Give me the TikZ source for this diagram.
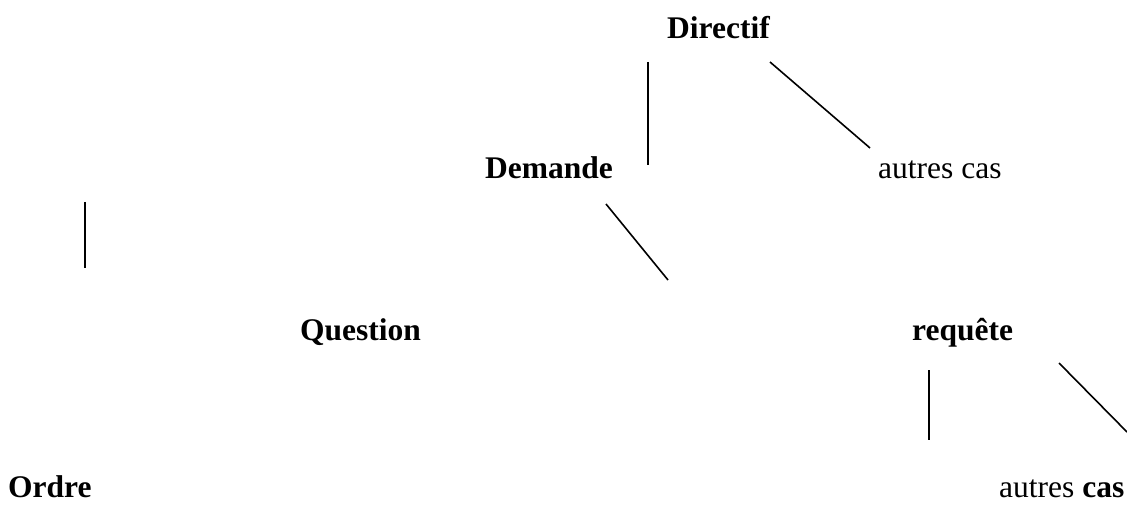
\documentclass[tikz,border=0pt]{standalone}
\usepackage{fontspec}
\setmainfont{Liberation Serif}
\begin{document}
\begin{tikzpicture}[x=1pt,y=-1pt,
  lbl/.style={anchor=base west,inner sep=0pt,font=\fontsize{31.5}{36}\selectfont},
  blbl/.style={lbl,font=\fontsize{31.5}{36}\selectfont\bfseries},
  seg/.style={line width=1.6pt}]
\useasboundingbox (0,0) rectangle (1127,505);
\node[blbl] (dir) at (667,39) {Directif};
\node[blbl] (dem) at (485,179) {Demande};
\node[lbl] (ac1) at (878,179) {autres cas};
\node[blbl] (que) at (300,340) {Question};
\node[blbl] (req) at (912,340) {requête};
\node[blbl] (ord) at (8,497) {Ordre};
\node[lbl] (ac2) at (999,497) {autres \textbf{cas}};
\coordinate (a1) at (648,62); \coordinate (a2) at (648,165);
\coordinate (b1) at (770,62); \coordinate (b2) at (870,148);
\coordinate (c1) at (606,204); \coordinate (c2) at (668,280);
\coordinate (d1) at (85,202); \coordinate (d2) at (85,268);
\coordinate (e1) at (929,370); \coordinate (e2) at (929,440);
\coordinate (f1) at (1059,363); \coordinate (f2) at (1127,432);
\draw[seg] (a1) -- (a2);
\draw[seg] (b1) -- (b2);
\draw[seg] (c1) -- (c2);
\draw[seg] (d1) -- (d2);
\draw[seg] (e1) -- (e2);
\draw[seg] (f1) -- (f2);
\end{tikzpicture}
\end{document}
